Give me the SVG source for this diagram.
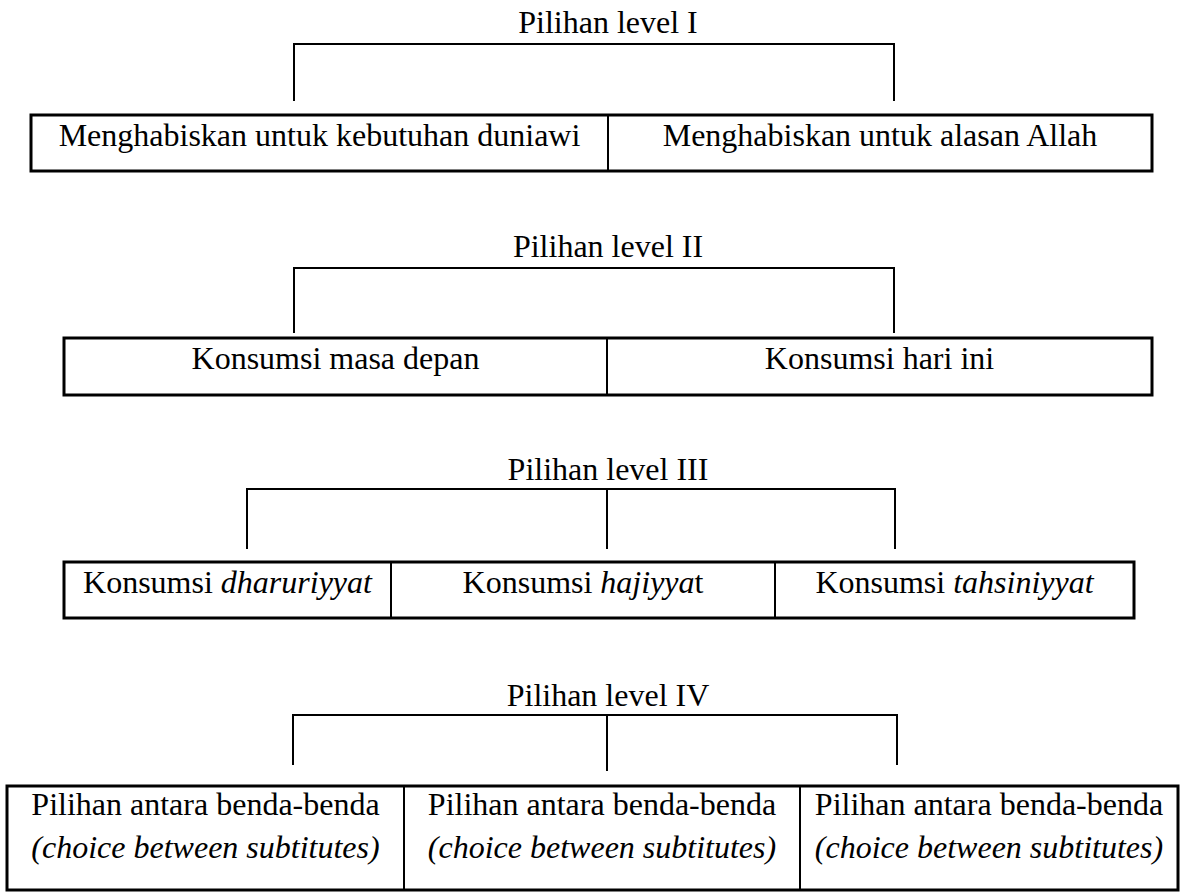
<svg xmlns="http://www.w3.org/2000/svg" width="1181" height="892" viewBox="0 0 1181 892">
<style>
text{font-family:"Liberation Serif","Times New Roman",serif;font-size:32px;fill:#000;text-anchor:middle}
.it{font-style:italic}
.box{fill:none;stroke:#000;stroke-width:3}
.div{stroke:#000;stroke-width:2}
.br{fill:none;stroke:#000;stroke-width:2}
</style>
<rect width="1181" height="892" fill="#fff"/>
<g id="connectors">
<path class="br" d="M294,101 V44 H894 V101"/>
<path class="br" d="M294,333 V268 H894 V333"/>
<path class="br" d="M247,549 V489 H895 V549 M607,489 V549"/>
<path class="br" d="M293,765 V715 H897 V765 M607,715 V771"/>
</g>
<g id="level1">
<text x="608" y="33">Pilihan level I</text>
<rect class="box" x="31" y="115" width="1121" height="56"/>
<line class="div" x1="608" y1="115" x2="608" y2="171"/>
<text x="319.5" y="146">Menghabiskan untuk kebutuhan duniawi</text>
<text x="880" y="146">Menghabiskan untuk alasan Allah</text>
</g>
<g id="level2">
<text x="608" y="257">Pilihan level II</text>
<rect class="box" x="64" y="338" width="1088" height="57"/>
<line class="div" x1="607" y1="338" x2="607" y2="395"/>
<text x="335.5" y="369">Konsumsi masa depan</text>
<text x="879.5" y="369">Konsumsi hari ini</text>
</g>
<g id="level3">
<text x="608" y="480">Pilihan level III</text>
<rect class="box" x="64" y="562" width="1070" height="56"/>
<line class="div" x1="391" y1="562" x2="391" y2="618"/>
<line class="div" x1="775" y1="562" x2="775" y2="618"/>
<text x="227.5" y="593">Konsumsi <tspan class="it">dharuriyyat</tspan></text>
<text x="583" y="593">Konsumsi <tspan class="it">hajiyya</tspan>t</text>
<text x="954.5" y="593">Konsumsi <tspan class="it">tahsiniyyat</tspan></text>
</g>
<g id="level4">
<text x="608" y="706">Pilihan level IV</text>
<rect class="box" x="7" y="786" width="1171" height="104"/>
<line class="div" x1="404" y1="786" x2="404" y2="890"/>
<line class="div" x1="800" y1="786" x2="800" y2="890"/>
<text x="205.5" y="815">Pilihan antara benda-benda</text>
<text x="205.5" y="858" class="it">(choice between subtitutes)</text>
<text x="602" y="815">Pilihan antara benda-benda</text>
<text x="602" y="858" class="it">(choice between subtitutes)</text>
<text x="989" y="815">Pilihan antara benda-benda</text>
<text x="989" y="858" class="it">(choice between subtitutes)</text>
</g>
</svg>
